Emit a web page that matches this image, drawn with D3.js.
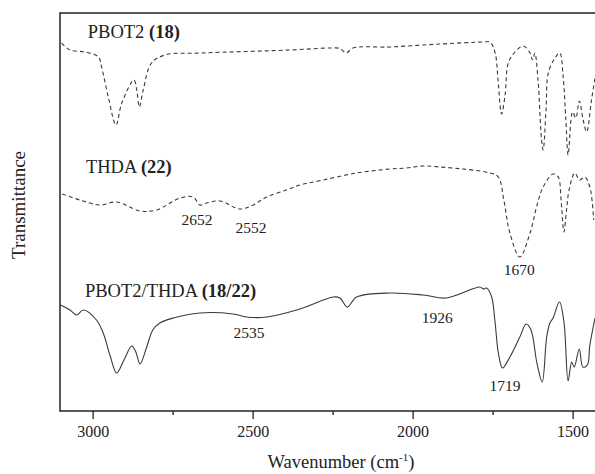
<!DOCTYPE html>
<html>
<head>
<meta charset="utf-8">
<script src="https://cdn.jsdelivr.net/npm/d3@7"></script>
<style>
  body { margin: 0; background: #fff; }
  svg text { font-family: "Liberation Serif", "Times New Roman", serif; fill: #222; }
</style>
</head>
<body>
<div id="chart"></div>
<script>
// wavenumber (cm-1) and transmittance (arbitrary, offset per trace)
var pbot2Wn = [3097, 3071, 3024, 2982, 2972, 2951, 2927, 2909, 2871, 2862, 2854, 2842, 2816, 2774, 2659,
  2383, 2258, 2227, 2208, 2186, 2071, 1915, 1779, 1758, 1742, 1733, 1722, 1711, 1701, 1680, 1654,
  1633, 1625, 1618, 1608, 1597, 1592, 1583, 1576, 1555, 1540, 1530, 1521, 1514, 1500, 1490, 1479,
  1467, 1456, 1441, 1430];
var pbot2T = [368, 361, 359, 354, 344, 314, 286, 308, 331, 321, 304, 321, 348, 356, 358,
  361, 363, 362.5, 358, 363, 364, 367, 369, 369, 358, 331, 297, 316, 348, 359, 365,
  358, 351, 358, 331, 271, 261, 301, 338, 353, 358, 336, 291, 256, 299, 293, 310,
  291, 279, 311, 333];

var thdaWn = [3095, 3040, 2977, 2925, 2852, 2800, 2727, 2686, 2665, 2644, 2602, 2540, 2498, 2456, 2394,
  2352, 2279, 2175, 2071, 2019, 1967, 1915, 1842, 1758, 1732, 1715, 1696, 1665, 1633, 1611, 1592,
  1561, 1545, 1536, 1527, 1519, 1511, 1493, 1478, 1462, 1446, 1434];
var thdaT = [217, 211, 206, 209, 200, 201, 213, 214, 206, 208, 210, 202, 206, 214, 221,
  226, 231, 238, 242, 243, 245, 244, 242, 238, 234, 211, 178, 154, 178, 206, 224,
  237, 234, 211, 179, 201, 221, 238, 231, 234, 224, 191];

var mixWn = [3101, 3071, 3050, 3029, 2988, 2967, 2946, 2925, 2902, 2878, 2865, 2852, 2831, 2812, 2790,
  2748, 2665, 2561, 2519, 2456, 2352, 2248, 2227, 2204, 2175, 2071, 1967, 1894, 1790, 1779, 1769,
  1753, 1743, 1732, 1719, 1696, 1665, 1645, 1630, 1611, 1595, 1581, 1571, 1561, 1541, 1527, 1514,
  1503, 1495, 1479, 1468, 1454, 1446, 1430];
var mixT = [106, 101, 96, 101, 91, 78, 56, 38, 51, 65, 59, 47, 64, 81, 88,
  93, 98, 97, 94, 94, 102, 114, 113, 104, 114, 118, 116, 113, 124, 122, 123,
  114, 91, 58, 43, 54, 74, 87, 81, 47, 29, 74, 88, 93, 109, 89, 30,
  49, 44, 62, 44, 46, 66, 93];

var traceNames = ['PBOT2 ', 'THDA ', 'PBOT2/THDA '];
var traceIds = ['(18)', '(22)', '(18/22)'];
var traceLabelWn = [3015, 3021, 3024];
var traceLabelT = [373, 238, 114];

var peakText = ['2652', '2552', '1670', '2535', '1926', '1719'];
var peakWn = [2674, 2505, 1667, 2511, 1923, 1711];
var peakT = [186, 178, 136, 73, 88, 20];

var majorTicks = [3000, 2500, 2000, 1500];
var minorTicks = [2750, 2250, 1750];

/*******************
 * LAYOUT
 *******************/
var width = 595, height = 474;
var margin = {top: 13, right: 0, bottom: 63, left: 60};

var svg = d3.select('#chart').append('svg')
  .attr('width', width)
  .attr('height', height);

var x = d3.scaleLinear().domain([3102, 1430]).range([margin.left, width - margin.right]);
var y = d3.scaleLinear().domain([0, 398]).range([height - margin.bottom, margin.top]);

svg.append('clipPath').attr('id', 'plot-clip')
  .append('rect')
  .attr('x', margin.left).attr('y', margin.top)
  .attr('width', width - margin.left - margin.right)
  .attr('height', height - margin.top - margin.bottom);

var line = d3.line()
  .x(function (d) { return x(d[0]); })
  .y(function (d) { return y(d[1]); })
  .curve(d3.curveCatmullRom.alpha(0.5));

var traces = [
  {wn: pbot2Wn, t: pbot2T, dash: '4,3'},
  {wn: thdaWn, t: thdaT, dash: '4,3'},
  {wn: mixWn, t: mixT, dash: null}
];

var plot = svg.append('g').attr('clip-path', 'url(#plot-clip)');

traces.forEach(function (tr) {
  var pts = tr.wn.map(function (w, i) { return [w, tr.t[i]]; });
  plot.append('path')
    .datum(pts)
    .attr('d', line)
    .attr('fill', 'none')
    .attr('stroke', '#3a3a3a')
    .attr('stroke-width', 1.1)
    .attr('stroke-dasharray', tr.dash);
});

// frame: left, top and bottom axis lines
var frame = svg.append('g').attr('stroke', '#222').attr('stroke-width', 1.5).attr('fill', 'none');
frame.append('path')
  .attr('d', 'M' + width + ',' + y(398) + 'H' + x(3102) + 'V' + y(0) + 'H' + width);

// bottom axis ticks
var xAxis = d3.axisBottom(x).tickValues(majorTicks).tickSize(8).tickSizeOuter(0).tickFormat(d3.format('d'));
var gx = svg.append('g').attr('transform', 'translate(0,' + y(0) + ')').call(xAxis);
gx.select('.domain').remove();
gx.selectAll('line').attr('stroke', '#222').attr('stroke-width', 1.3);
gx.selectAll('text')
  .attr('dy', null).attr('y', 26)
  .style('font-family', '"Liberation Serif", serif')
  .style('font-size', '16px')
  .attr('fill', '#222');

var gxMinor = svg.append('g').attr('transform', 'translate(0,' + y(0) + ')')
  .call(d3.axisBottom(x).tickValues(minorTicks).tickSize(4).tickFormat(''));
gxMinor.select('.domain').remove();
gxMinor.selectAll('line').attr('stroke', '#222').attr('stroke-width', 1.3);

// trace labels
traceNames.forEach(function (name, i) {
  var t = svg.append('text')
    .attr('x', x(traceLabelWn[i]))
    .attr('y', y(traceLabelT[i]))
    .style('font-size', '18.5px');
  t.append('tspan').text(name);
  t.append('tspan').attr('font-weight', 'bold').text(traceIds[i]);
});

// peak annotations
peakText.forEach(function (txt, i) {
  svg.append('text')
    .attr('x', x(peakWn[i]))
    .attr('y', y(peakT[i]))
    .attr('text-anchor', 'middle')
    .style('font-size', '15.5px')
    .text(txt);
});

// axis titles
var xt = svg.append('text')
  .attr('x', 341)
  .attr('y', 468)
  .attr('text-anchor', 'middle')
  .style('font-size', '18.5px');
xt.append('tspan').text('Wavenumber (cm');
xt.append('tspan').attr('dy', -7).style('font-size', '11px').text('-1');
xt.append('tspan').attr('dy', 7).text(')');

svg.append('text')
  .attr('transform', 'translate(25,205) rotate(-90)')
  .attr('text-anchor', 'middle')
  .style('font-size', '19px')
  .text('Transmittance');
</script>
</body>
</html>
